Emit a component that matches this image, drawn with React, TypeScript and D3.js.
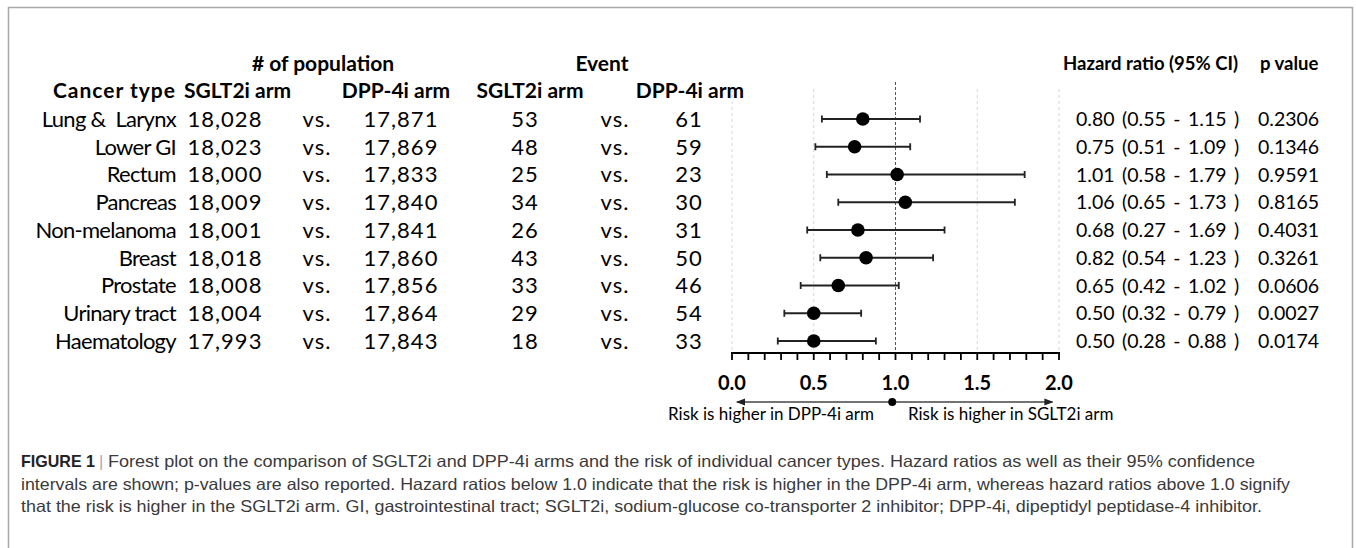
import React from "react";
import * as d3 from "d3";

const categories = ["Lung &  Larynx", "Lower GI", "Rectum", "Pancreas", "Non-melanoma", "Breast", "Prostate", "Urinary tract", "Haematology"];
const sgltPop = ["18,028", "18,023", "18,000", "18,009", "18,001", "18,018", "18,008", "18,004", "17,993"];
const dppPop = ["17,871", "17,869", "17,833", "17,840", "17,841", "17,860", "17,856", "17,864", "17,843"];
const sgltEvents = ["53", "48", "25", "34", "26", "43", "33", "29", "18"];
const dppEvents = ["61", "59", "23", "30", "31", "50", "46", "54", "33"];
const hrLabels = ["0.80 (0.55 - 1.15 )", "0.75 (0.51 - 1.09 )", "1.01 (0.58 - 1.79 )", "1.06 (0.65 - 1.73 )", "0.68 (0.27 - 1.69 )", "0.82 (0.54 - 1.23 )", "0.65 (0.42 - 1.02 )", "0.50 (0.32 - 0.79 )", "0.50 (0.28 - 0.88 )"];
const pValues = ["0.2306", "0.1346", "0.9591", "0.8165", "0.4031", "0.3261", "0.0606", "0.0027", "0.0174"];
// plotted values as drawn in the figure
const plotHr = [0.80, 0.75, 1.01, 1.06, 0.77, 0.82, 0.65, 0.50, 0.50];
const plotLo = [0.55, 0.51, 0.58, 0.65, 0.46, 0.54, 0.42, 0.32, 0.28];
const plotHi = [1.15, 1.09, 1.79, 1.73, 1.30, 1.23, 1.02, 0.79, 0.88];
const majorTicks = [0, 0.5, 1, 1.5, 2];
const gridValues = [0, 0.5, 1.5, 2];
const arrowLabels = ["Risk is higher in DPP-4i arm", "Risk is higher in SGLT2i arm"];
const captionLines = [
  "Forest plot on the comparison of SGLT2i and DPP-4i arms and the risk of individual cancer types. Hazard ratios as well as their 95% confidence",
  "intervals are shown; p-values are also reported. Hazard ratios below 1.0 indicate that the risk is higher in the DPP-4i arm, whereas hazard ratios above 1.0 signify",
  "that the risk is higher in the SGLT2i arm. GI, gastrointestinal tract; SGLT2i, sodium-glucose co-transporter 2 inhibitor; DPP-4i, dipeptidyl peptidase-4 inhibitor.",
];

const W = 1356, H = 548;
const FONT = "Lato, 'Open Sans', sans-serif";
const CAP = "'Liberation Sans Narrow', 'Liberation Sans', Arial, sans-serif";

export default function App() {
  const x = d3.scaleLinear().domain([0, 2]).range([732, 1059]);
  const y = d3.scalePoint<string>().domain(categories).range([119, 341]);
  const axisY = 353;
  const minorTicks = d3.range(0, 21).map((i) => i / 10);
  const fs = 22;
  const rfs = 19.5;
  const hfs = 21;
  const rhfs = 18.5;
  const bl = (cy: number, size: number) => cy + size * 0.36;
  const h1 = 63, h2 = 90;
  const arrowY = 402;
  const capY = [467, 490, 512];
  const capEnd = [1255, 1290, 1262];

  return (
    <svg width={W} height={H} style={{ position: "absolute", left: 0, top: 0, background: "#fff" }} fontFamily={FONT}>
      <rect x={0} y={0} width={W} height={H} fill="#fff" />
      {/* frame */}
      <path d={`M8.5,${H} V7.5 H1352.5 V${H}`} fill="none" stroke="#a8a8a8" strokeWidth={1.5} />

      {/* headers */}
      <g fontWeight="bold" fontSize={hfs} fill="#000">
        <text x={323} y={bl(h1, hfs)} textAnchor="middle">
          # of population
        </text>
        <text x={602} y={bl(h1, hfs)} textAnchor="middle">
          Event
        </text>
        <text x={176} y={bl(h2, hfs)} textAnchor="end" letterSpacing={1}>
          Cancer type
        </text>
        <text x={184} y={bl(h2, hfs)}>SGLT2i arm</text>
        <text x={396} y={bl(h2, hfs)} textAnchor="middle">
          DPP-4i arm
        </text>
        <text x={530} y={bl(h2, hfs)} textAnchor="middle">
          SGLT2i arm
        </text>
        <text x={690} y={bl(h2, hfs)} textAnchor="middle">
          DPP-4i arm
        </text>
      </g>
      <g fontWeight="bold" fontSize={rhfs} fill="#000">
        <text x={1238} y={bl(h1, rhfs)} textAnchor="end">
          Hazard ratio (95% CI)
        </text>
        <text x={1260} y={bl(h1, rhfs)}>p value</text>
      </g>

      {/* grid */}
      {gridValues.map((v) => (
        <line key={v} x1={x(v)} x2={x(v)} y1={89} y2={axisY} stroke="#d6d6d6" strokeWidth={1} strokeDasharray="3,3" />
      ))}
      <line x1={x(1)} x2={x(1)} y1={82} y2={axisY} stroke="#555" strokeWidth={1} strokeDasharray="3,2" />

      {/* rows */}
      {categories.map((c, i) => {
        const cy = y(c)!;
        const b = bl(cy, fs);
        const rb = bl(cy, rfs);
        return (
          <g key={c}>
            <g fontSize={fs} fill="#000">
              <text x={176} y={b} textAnchor="end" letterSpacing={-0.7} style={{ whiteSpace: "pre" }}>
                {c}
              </text>
              <g letterSpacing={1}>
                <text x={225} y={b} textAnchor="middle">{sgltPop[i]}</text>
                <text x={317} y={b} textAnchor="middle">vs.</text>
                <text x={401} y={b} textAnchor="middle">{dppPop[i]}</text>
                <text x={525} y={b} textAnchor="middle">{sgltEvents[i]}</text>
                <text x={615} y={b} textAnchor="middle">vs.</text>
                <text x={689} y={b} textAnchor="middle">{dppEvents[i]}</text>
              </g>
            </g>
            <g fontSize={rfs} fill="#000">
              <text x={1076} y={rb} wordSpacing={2.5}>{hrLabels[i]}</text>
              <text x={1258} y={rb}>{pValues[i]}</text>
            </g>
            <line x1={x(plotLo[i])} x2={x(plotHi[i])} y1={cy} y2={cy} stroke="#222" strokeWidth={2} />
            <line x1={x(plotLo[i])} x2={x(plotLo[i])} y1={cy - 3.5} y2={cy + 3.5} stroke="#222" strokeWidth={1.8} />
            <line x1={x(plotHi[i])} x2={x(plotHi[i])} y1={cy - 3.5} y2={cy + 3.5} stroke="#222" strokeWidth={1.8} />
            <circle cx={x(plotHr[i])} cy={cy} r={6.8} fill="#000" />
          </g>
        );
      })}

      {/* axis */}
      <line x1={x(0) - 1} x2={x(2) + 1} y1={axisY} y2={axisY} stroke="#000" strokeWidth={2.2} />
      {minorTicks.map((t) => (
        <line key={t} x1={x(t)} x2={x(t)} y1={axisY} y2={axisY + 7} stroke="#000" strokeWidth={1.8} />
      ))}
      <g fontWeight="bold" fontSize={20} fill="#000">
        {majorTicks.map((t) => (
          <text key={t} x={x(t)} y={bl(383, 20)} textAnchor="middle">
            {d3.format(".1f")(t)}
          </text>
        ))}
      </g>

      {/* direction arrow */}
      <defs>
        <marker id="arr" viewBox="0 0 10 10" refX={9} refY={5} markerWidth={9} markerHeight={9} markerUnits="userSpaceOnUse" orient="auto-start-reverse">
          <path d="M0,1 L10,5 L0,9 Z" fill="#222" />
        </marker>
      </defs>
      <line x1={x(0.03)} x2={x(1.96)} y1={arrowY} y2={arrowY} stroke="#444" strokeWidth={1.3} markerStart="url(#arr)" markerEnd="url(#arr)" />
      <circle cx={x(0.98)} cy={arrowY} r={4} fill="#000" />
      <g fontSize={17} fill="#000">
        <text x={874} y={bl(414, 17)} textAnchor="end">{arrowLabels[0]}</text>
        <text x={908} y={bl(414, 17)}>{arrowLabels[1]}</text>
      </g>

      {/* caption */}
      <g fontFamily={CAP} fontSize={16.5} fill="#3a3a3a">
        <text x={21} y={capY[0]} fontWeight="bold" fill="#222" textLength={74} lengthAdjust="spacingAndGlyphs">FIGURE 1</text>
        <text x={99} y={capY[0]} fill="#aaa">|</text>
        <text x={108} y={capY[0]} textLength={capEnd[0] - 108} lengthAdjust="spacingAndGlyphs">{captionLines[0]}</text>
        <text x={21} y={capY[1]} textLength={capEnd[1] - 21} lengthAdjust="spacingAndGlyphs">{captionLines[1]}</text>
        <text x={21} y={capY[2]} textLength={capEnd[2] - 21} lengthAdjust="spacingAndGlyphs">{captionLines[2]}</text>
      </g>
    </svg>
  );
}
